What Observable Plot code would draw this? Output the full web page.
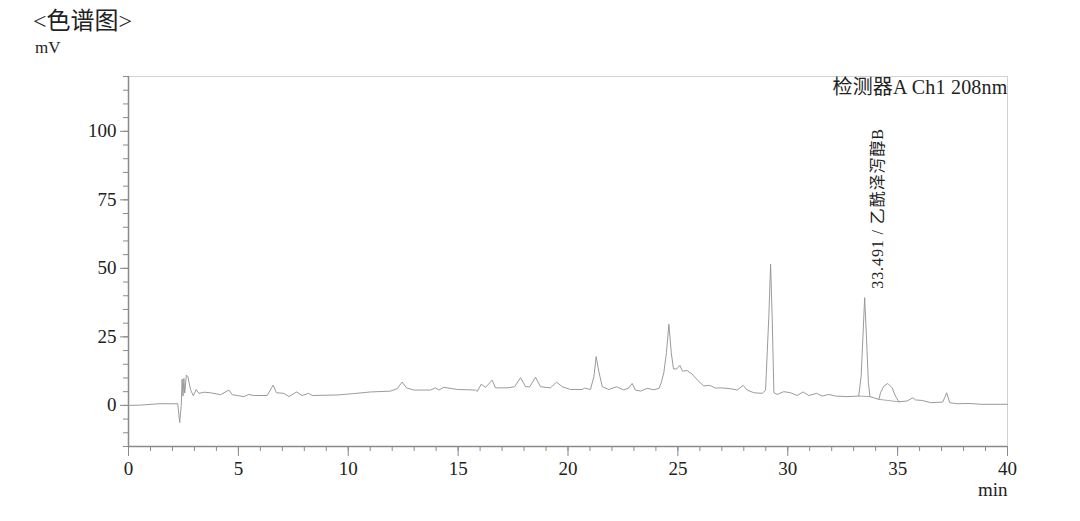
<!DOCTYPE html>
<html>
<head>
<meta charset="utf-8">
<script src="https://cdn.jsdelivr.net/npm/d3@7"></script>
<script src="https://cdn.jsdelivr.net/npm/@observablehq/plot@0.6"></script>
<style>
  html, body { margin: 0; padding: 0; background: #fff; }
  #wrap { position: relative; width: 1080px; height: 521px; overflow: hidden; }
  .lbl { position: absolute; font-family: 'Liberation Serif', 'Noto Sans CJK SC', serif; color: #222; white-space: nowrap; line-height: 1; }
  #title { left: 33px; top: 9px; font-size: 24px; }
  #unit { left: 35px; top: 39px; font-size: 17px; }
  svg { position: absolute; left: 0; top: 0; }
  .peaklbl text { letter-spacing: 0.9px; }
  .detlbl text { letter-spacing: 0.2px; }
</style>
</head>
<body>
<div id="wrap">
  <div id="title" class="lbl">&lt;色谱图&gt;</div>
  <div id="unit" class="lbl">mV</div>
</div>
<script>
// ---- data ----
const retentionTime = [
  0, 0.55, 1.38, 1.91, 2.24, 2.33, 2.40, 2.44, 2.48, 2.52, 2.56, 2.63, 2.70, 2.82, 2.95, 3.08, 3.20, 3.45, 3.73,
  4.19, 4.57, 4.72, 5.25, 5.47, 5.70, 6.31, 6.58, 6.73, 7.07, 7.30, 7.65, 7.90, 8.20, 8.36, 9.50, 10.25, 11.01,
  11.92, 12.23, 12.45, 12.65, 12.98, 13.74, 13.97, 14.12, 14.35, 14.96, 15.79, 15.87, 16.05, 16.25, 16.55, 16.70,
  17.23, 17.57, 17.84, 18.07, 18.26, 18.52, 18.75, 19.20, 19.48, 19.74, 20.11, 20.65, 20.75, 21.02, 21.18, 21.28,
  21.40, 21.56, 21.86, 22.21, 22.54, 22.77, 22.92, 23.07, 23.30, 23.60, 23.91, 24.14, 24.25, 24.36, 24.48, 24.59,
  24.70, 24.80, 24.95, 25.09, 25.21, 25.42, 25.65, 25.92, 26.18, 26.45, 26.71, 26.94, 27.39, 27.70, 27.97, 28.15,
  28.46, 28.84, 28.99, 29.14, 29.22, 29.29, 29.37, 29.52, 29.82, 30.13, 30.43, 30.70, 30.96, 31.31, 31.57, 31.87,
  32.17, 32.70, 33.23, 33.34, 33.43, 33.50, 33.58, 33.67, 33.74, 34.15, 34.22, 34.37, 34.55, 34.75, 34.90, 35.06,
  35.43, 35.69, 35.81, 36.12, 36.50, 37.05, 37.14, 37.23, 37.37, 37.71, 38.30, 38.78, 40.0
];
const signal = [
  0, 0.1, 0.6, 0.6, 0.6, -6.3, 0, 9.6, 3.4, 9.8, 4.5, 11.0, 10.6, 5.8, 3.5, 5.8, 4.4, 4.8, 4.6,
  3.9, 5.6, 3.9, 3.2, 4.0, 3.6, 3.6, 7.4, 4.6, 4.4, 3.2, 4.9, 3.6, 4.4, 3.6, 3.8, 4.3, 4.9,
  5.2, 6.1, 8.5, 6.4, 5.6, 5.6, 6.4, 5.6, 6.6, 5.8, 5.6, 5.1, 7.7, 6.6, 9.2, 6.4,
  6.4, 6.8, 10.1, 6.8, 6.8, 10.3, 6.8, 6.4, 8.5, 6.8, 5.8, 5.8, 6.3, 5.8, 10.5, 17.8,
  12.5, 6.8, 5.8, 6.8, 5.6, 6.4, 8.0, 5.6, 5.2, 6.2, 5.7, 6.2, 8.5, 11.9, 19.2, 29.6,
  19.2, 13.3, 13.3, 14.6, 12.5, 12.7, 11.4, 9.0, 7.1, 7.3, 6.3, 6.4, 6.1, 5.6, 7.3, 5.6,
  4.6, 4.4, 5.5, 32.6, 51.5, 32.6, 4.6, 4.0, 5.0, 4.6, 3.6, 4.9, 3.6, 4.4, 3.4, 4.0,
  3.4, 3.2, 3.4, 10.7, 26.5, 39.3, 25.3, 8.3, 3.2, 2.2, 4.6, 7.0, 8.0, 6.4, 3.4, 1.3,
  1.6, 2.8, 2.0, 1.8, 1.0, 1.2, 2.8, 4.6, 1.0, 0.6, 0.7, 0.4, 0.4
];
// integration baselines drawn under peaks
const baselineTime = [[33.23, 33.74], [34.15, 35.06]];
const baselineSignal = [[3.4, 3.2], [2.2, 1.3]];

const xMajorTicks = [0, 5, 10, 15, 20, 25, 30, 35, 40];
const xTickLabels = ["0", "5", "10", "15", "20", "25", "30", "35", "40"];
const xMinorTicks = [0,1,2,3,4,5,6,7,8,9,10,11,12,13,14,15,16,17,18,19,20,21,22,23,24,25,26,27,28,29,30,31,32,33,34,35,36,37,38,39,40];
const yMajorTicks = [0, 25, 50, 75, 100];
const yTickLabels = ["0", "25", "50", "75", "100"];
const yMinorTicks = [-15,-10,-5,0,5,10,15,20,25,30,35,40,45,50,55,60,65,70,75,80,85,90,95,100,105,110,115,120];

const xLabel = "min";
const detectorLabel = "检测器A Ch1 208nm";
const peakTime = [33.491];
const peakHeight = [39.3];
const peakLabel = ["33.491 / 乙酰泽泻醇B"];

// ---- build tables ----
const trace = retentionTime.map((t, i) => ({t, v: signal[i]}));
const baselines = baselineTime.map((ts, k) => ts.map((t, i) => ({t, v: baselineSignal[k][i], k}))).flat();
const peaks = peakTime.map((t, i) => ({t, v: peakHeight[i], label: peakLabel[i]}));

const FONT = "'Liberation Serif', 'Noto Sans CJK SC', serif";
const axisColor = "#8a8a8a";

const chart = Plot.plot({
  width: 1080,
  height: 521,
  marginLeft: 128,
  marginRight: 73,
  marginTop: 76,
  marginBottom: 75,
  style: {fontFamily: FONT, background: "transparent", color: "#222"},
  x: {domain: [0, 40]},
  y: {domain: [-15, 120]},
  marks: [
    Plot.ruleY([120], {stroke: "#d2d2d2", strokeWidth: 1}),
    Plot.ruleX([40], {stroke: "#d2d2d2", strokeWidth: 1}),
    Plot.axisX(xMinorTicks, {tickSize: 5, tickFormat: () => "", label: null, stroke: axisColor}),
    Plot.axisX(xMajorTicks, {tickSize: 10, tickPadding: 5, fontSize: 19, fill: "#222",
      tickFormat: (d) => xTickLabels[xMajorTicks.indexOf(d)], label: null, stroke: axisColor}),
    Plot.axisY(yMinorTicks, {tickSize: 5, tickFormat: () => "", label: null, stroke: axisColor}),
    Plot.axisY(yMajorTicks, {tickSize: 8, tickPadding: 4, fontSize: 19, fill: "#222",
      tickFormat: (d) => yTickLabels[yMajorTicks.indexOf(d)], label: null, stroke: axisColor}),
    Plot.ruleX([0], {stroke: axisColor, strokeWidth: 1.5}),
    Plot.ruleY([-15], {stroke: axisColor, strokeWidth: 1.5}),
    Plot.line(baselines, {x: "t", y: "v", z: "k", stroke: "#a0a0a0", strokeWidth: 0.9}),
    Plot.line(trace, {x: "t", y: "v", stroke: "#959595", strokeWidth: 0.95}),
    Plot.text([detectorLabel], {frameAnchor: "top-right", text: (d) => d, textAnchor: "end",
      lineAnchor: "middle", dy: 11, fontSize: 20, fill: "#222", className: "detlbl"}),
    Plot.text(peaks, {x: "t", y: "v", text: "label", rotate: -90, textAnchor: "start",
      lineAnchor: "middle", dx: 13, dy: -9, fontSize: 16, fill: "#222", className: "peaklbl"}),
    Plot.text([xLabel], {frameAnchor: "bottom-right", text: (d) => d, textAnchor: "end",
      lineAnchor: "middle", dy: 43, fontSize: 19, fill: "#222"})
  ]
});
document.getElementById("wrap").appendChild(chart);
</script>
</body>
</html>
